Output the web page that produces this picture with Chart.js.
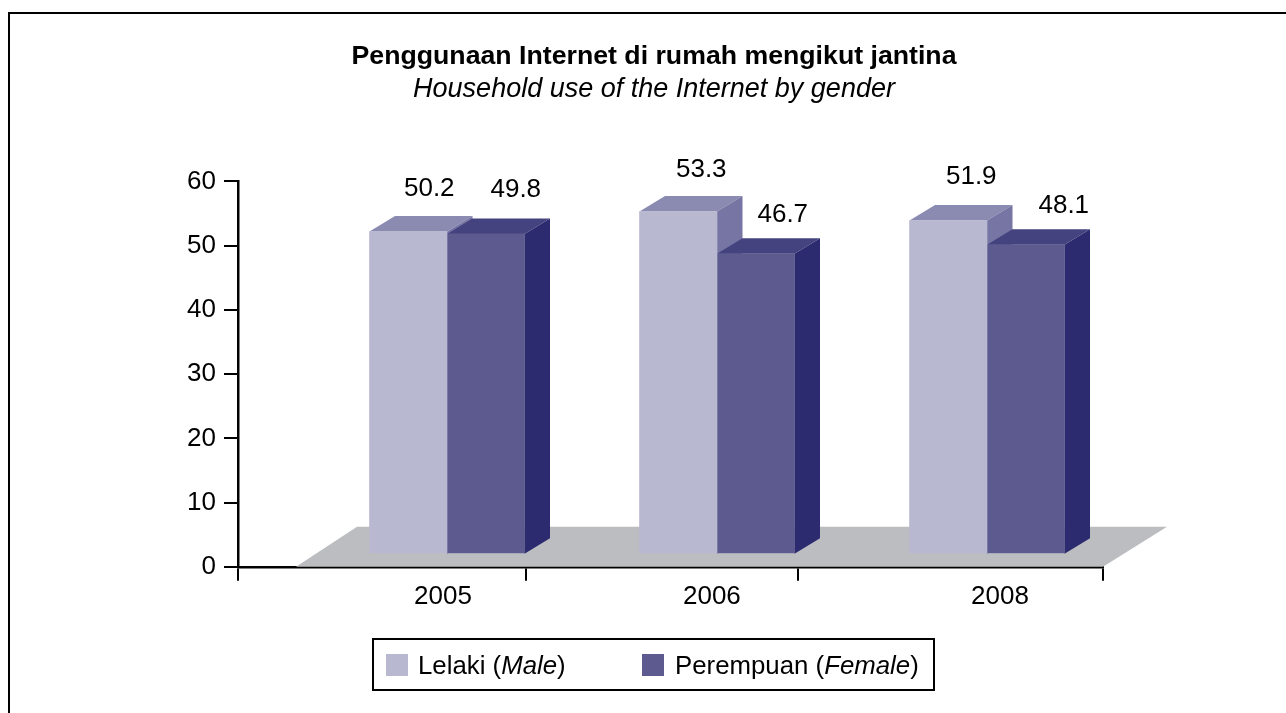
<!DOCTYPE html>
<html><head><meta charset="utf-8">
<style>html,body{margin:0;padding:0;background:#fff}#wrap{position:absolute;left:0;top:0;width:1286px;height:713px}</style>
<script src="https://cdn.jsdelivr.net/npm/chart.js@4"></script>
</head><body><div id="wrap"><canvas id="c" width="1286" height="713"></canvas></div>
<script>
const categories = ['2005', '2006', '2008'];
const positions = [1, 2, 3];
const male = [50.2, 53.3, 51.9];
const female = [49.8, 46.7, 48.1];
const titleText = 'Penggunaan Internet di rumah mengikut jantina';
const subtitleText = 'Household use of the Internet by gender';
const maleLabel = ['Lelaki (', 'Male', ')'];
const femaleLabel = ['Perempuan (', 'Female', ')'];
const bandEdges = [0.2259, 1.2926, 2.3, 3.4296];
const labelAt = [0.985, 1.981, 3.048];
const labelShift = [[21,-45],[30,-46],[23,-44],[27,-41],[23,-46],[38,-41]];

const FONT = '"Liberation Sans", Arial, sans-serif';
const DEPTH = {x: 25.5, y: 15.5};
const LIFT = 13;
const colors = {
  male: {front:'#b9b8d1', top:'#8b8ab1', side:'#7675a3'},
  female: {front:'#5c5a8e', top:'#44427f', side:'#2d2b6f'}
};
function poly(ctx, pts, fill){ctx.beginPath();pts.forEach((p,i)=>i?ctx.lineTo(p[0],p[1]):ctx.moveTo(p[0],p[1]));ctx.closePath();ctx.fillStyle=fill;ctx.fill();}

const solid = {
  id:'solid',
  beforeDatasetsDraw(chart){
    const {ctx, scales:{x,y}} = chart;
    const y0 = y.getPixelForValue(0);
    ctx.save();
    ctx.strokeStyle='#000';ctx.lineWidth=2;
    ctx.beginPath();ctx.moveTo(9,713);ctx.lineTo(9,13);ctx.lineTo(1286,13);ctx.stroke();
    const l=x.getPixelForValue(x.min), r=x.getPixelForValue(x.max);
    poly(ctx,[[l+58,y0],[l+119,y0-40],[r+64,y0-40],[r,y0]],'#bcbdc0');
    ctx.translate(0,-LIFT);
    [['male',0],['female',1]].forEach(([k,di])=>{
      chart.getDatasetMeta(di).data.forEach(b=>{
        const L=b.x-b.width/2,R=b.x+b.width/2,T=b.y,B=y0;
        poly(ctx,[[L,T],[L+DEPTH.x,T-DEPTH.y],[R+DEPTH.x,T-DEPTH.y],[R,T]],colors[k].top);
        poly(ctx,[[R,T],[R+DEPTH.x,T-DEPTH.y],[R+DEPTH.x,B-DEPTH.y],[R,B]],colors[k].side);
      });
    });
    ctx.restore();
    ctx.save();
    ctx.translate(0,-LIFT);
  },
  afterDatasetsDraw(chart){
    const {ctx}=chart;
    ctx.restore();
    ctx.save();
    ctx.font='26px '+FONT;ctx.fillStyle='#000';ctx.textAlign='center';ctx.textBaseline='middle';
    let n=0;
    for(let g=0;g<categories.length;g++){
      [0,1].forEach(di=>{
        const b=chart.getDatasetMeta(di).data[g];
        const v=chart.data.datasets[di].data[g].y;
        const s=labelShift[n++];
        ctx.fillText(v.toFixed(1),b.x+s[0],b.y-LIFT+s[1]+2);
      });
    }
    ctx.restore();
  },
  afterDraw(chart){
    const {ctx}=chart;
    ctx.save();
    ctx.strokeStyle='#000';ctx.lineWidth=2;ctx.strokeRect(373,639,561,51);
    ctx.textBaseline='middle';ctx.textAlign='left';
    const item=(sx,tx,col,parts)=>{
      ctx.fillStyle=col;ctx.fillRect(sx,654,22,22);
      ctx.fillStyle='#000';let px=tx;
      parts.forEach((t,i)=>{ctx.font=(i==1?'italic ':'')+'25.8px '+FONT;ctx.fillText(t,px,667);px+=ctx.measureText(t).width;});
    };
    item(386,418,colors.male.front,maleLabel);
    item(642,675,colors.female.front,femaleLabel);
    ctx.restore();
  }
};

new Chart(document.getElementById('c'),{
  type:'bar',
  data:{datasets:[
    {label:maleLabel.join(''),data:positions.map((p,i)=>({x:p,y:male[i]})),backgroundColor:colors.male.front},
    {label:femaleLabel.join(''),data:positions.map((p,i)=>({x:p,y:female[i]})),backgroundColor:colors.female.front}
  ]},
  options:{
    responsive:false,animation:false,
    barThickness:77.5,
    layout:{padding:{left:22,right:0,top:0,bottom:101}},
    plugins:{
      legend:{display:false},tooltip:{enabled:false},
      title:{display:true,text:titleText,color:'#000',font:{family:FONT,size:26.7,weight:'bold'},padding:{top:41,bottom:0}},
      subtitle:{display:true,text:subtitleText,color:'#000',font:{family:FONT,size:27,style:'italic'},padding:{bottom:76}}
    },
    scales:{
      x:{type:'linear',min:bandEdges[0],max:bandEdges[3],offset:false,z:1,
        afterBuildTicks(s){s.ticks=[...bandEdges,...labelAt].sort((a,b)=>a-b).map(v=>({value:v}));},
        afterTickToLabelConversion(s){s.ticks.forEach(t=>{const i=labelAt.indexOf(t.value);t.label=i>=0?categories[i]:'';});},
        ticks:{autoSkip:false,maxRotation:0,color:'#000',font:{family:FONT,size:26},padding:0},
        grid:{offset:false,drawOnChartArea:false,drawTicks:true,tickLength:14,lineWidth:2,
          tickColor:c=>c.tick&&labelAt.includes(c.tick.value)?'rgba(0,0,0,0)':'#000'},
        border:{color:'#000',width:2.5}},
      y:{min:0,max:60,
        ticks:{stepSize:10,color:'#000',font:{family:FONT,size:26},padding:8},
        grid:{drawOnChartArea:false,tickLength:14,tickColor:'#000',lineWidth:2},
        border:{color:'#000',width:2.5},
        afterFit(s){s.width=216;}},
      yRight:{position:'right',min:0,max:60,
        ticks:{display:false},grid:{display:false},border:{display:false},
        afterFit(s){s.width=183;}}
    }
  },
  plugins:[solid]
});
</script></body></html>
